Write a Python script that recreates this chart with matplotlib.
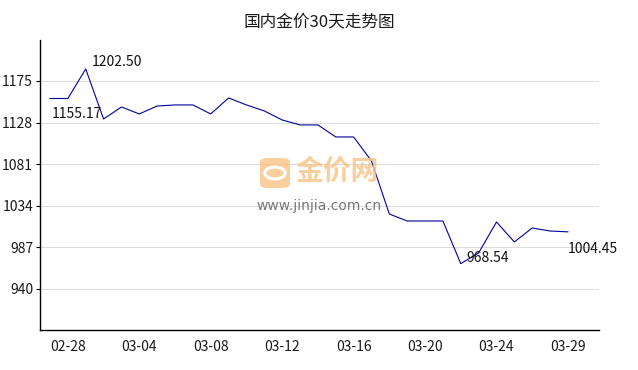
import matplotlib
matplotlib.use("Agg")
import matplotlib.pyplot as plt
from matplotlib.patches import FancyBboxPatch, Circle

plt.rcParams['font.family'] = ['Noto Sans CJK SC', 'DejaVu Sans']

title = "国内金价30天走势图"

dates = ["02-27", "02-28", "03-01", "03-02", "03-03", "03-04", "03-05", "03-06",
         "03-07", "03-08", "03-09", "03-10", "03-11", "03-12", "03-13", "03-14",
         "03-15", "03-16", "03-17", "03-18", "03-19", "03-20", "03-21", "03-22",
         "03-23", "03-24", "03-25", "03-26", "03-28", "03-29"]
prices = [1155.17, 1155.17, 1188.6, 1132.0, 1145.6, 1137.7, 1146.7, 1147.9,
          1147.9, 1137.7, 1155.8, 1147.9, 1141.1, 1130.9, 1125.3, 1125.3,
          1111.7, 1111.7, 1084.6, 1024.6, 1016.7, 1016.7, 1016.7, 968.54,
          980.6, 1015.6, 993.0, 1008.8, 1005.4, 1004.45]
shown_dates = ["02-28", "03-04", "03-08", "03-12", "03-16", "03-20", "03-24", "03-29"]
y_ticks = [940, 987, 1034, 1081, 1128, 1175]

# labels: (index, text, offset in points)
labels = [(0, "1155.17", (1, -11)), (2, "1202.50", (4, 5)),
          (23, "968.54", (4, 4)), (29, "1004.45", (0, -12))]

fig = plt.figure(figsize=(6.38, 3.70), dpi=100)
ax = fig.add_axes([40 / 638, 1 - 330 / 370, 559 / 638, 290 / 370])

x = list(range(len(prices)))
ax.plot(x, prices, color="#0000a0", lw=0.8, zorder=3)

for i, txt, off in labels:
    ax.annotate(txt, (x[i], prices[i]), xytext=off, textcoords="offset points",
                fontsize=10, color="#111111", va="center", ha="left", zorder=4)

ax.set_xlim(-0.56, 30.74)
ax.set_ylim(893.5, 1221.3)
ax.set_yticks(y_ticks)
ax.set_yticklabels([str(v) for v in y_ticks])
tick_pos = [dates.index(d) for d in shown_dates]
ax.set_xticks(tick_pos)
ax.set_xticklabels(shown_dates)
ax.tick_params(axis="x", length=0, pad=7, labelsize=10, colors="#1a1a1a")
ax.tick_params(axis="y", length=3, width=0.8, pad=2, labelsize=10, colors="#1a1a1a")
ax.tick_params(axis="y", color="#000000")

ax.grid(axis="y", color="#dddddd", lw=0.8)
ax.set_axisbelow(True)
for side in ["top", "right"]:
    ax.spines[side].set_visible(False)
for side in ["left", "bottom"]:
    ax.spines[side].set_color("#000000")
    ax.spines[side].set_linewidth(1.0)

fig.text(0.5, 1 - 22 / 370, title, ha="center", va="center", fontsize=12, color="#1a1a1a")

# watermark
box = FancyBboxPatch((260 / 638, 1 - 188 / 370), 30 / 638, 30 / 370,
                     boxstyle="round,pad=0,rounding_size=0.012",
                     transform=fig.transFigure, facecolor="#fbc286", edgecolor="none",
                     alpha=0.8, zorder=1)
fig.patches.append(box)
ring = Circle((275 / 638, 1 - 173 / 370), 0.016, transform=fig.transFigure,
              facecolor="none", edgecolor="white", lw=2.2, zorder=2)
fig.patches.append(ring)
fig.text(337 / 638, 1 - 172 / 370, "金价网", ha="center", va="center", fontsize=20,
         fontweight="bold", color="#fbc286", alpha=0.8)
fig.text(319 / 638, 1 - 206 / 370, "www.jinjia.com.cn", ha="center", va="center",
         fontsize=10, color="#777777", family=["DejaVu Sans"])

plt.savefig("out.png", dpi=100)
